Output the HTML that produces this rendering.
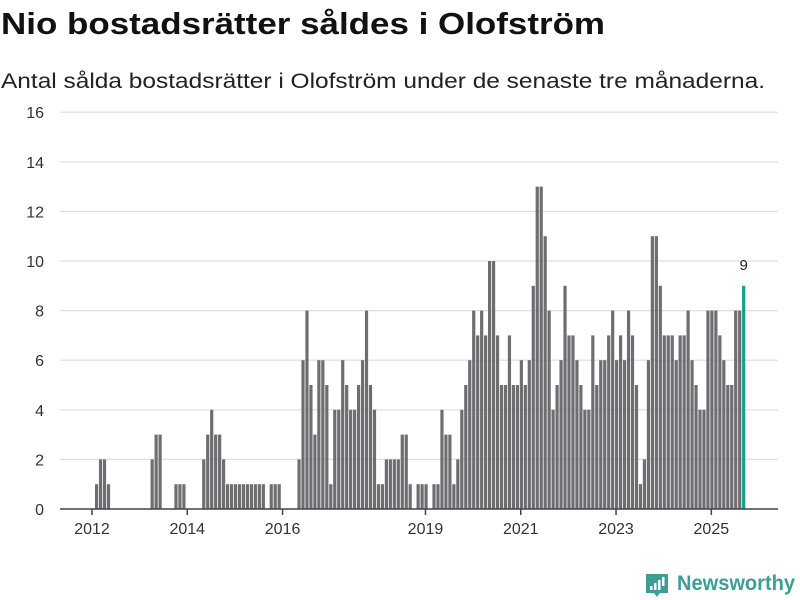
<!DOCTYPE html>
<html><head><meta charset="utf-8"><style>
html,body{margin:0;padding:0;background:#fff;}
svg{display:block;font-family:"Liberation Sans",sans-serif;}
</style></head><body>
<svg id="chart" width="800" height="600" viewBox="0 0 800 600">
<text x="1" y="34" font-size="31" font-weight="bold" fill="#111" textLength="604" lengthAdjust="spacingAndGlyphs">Nio bostadsrätter såldes i Olofström</text>
<text x="1" y="88" font-size="21" fill="#222" textLength="764" lengthAdjust="spacingAndGlyphs">Antal sålda bostadsrätter i Olofström under de senaste tre månaderna.</text>
<g id="grid"></g>
<g id="bars"></g>
<g id="axes"></g>
<g>
<path d="M646 574 h22 v19 h-8 l-3 4 l-3 -4 h-8 z" fill="#3d9e95"/>
<rect x="650" y="586" width="2.5" height="4" fill="#fff"/>
<rect x="654" y="583" width="2.5" height="7" fill="#fff"/>
<rect x="658" y="580" width="2.5" height="10" fill="#fff"/>
<rect x="662" y="577" width="2.5" height="9" fill="#fff"/>
<text x="677" y="590" font-size="21" font-weight="bold" fill="#3d9e95" textLength="118" lengthAdjust="spacingAndGlyphs">Newsworthy</text>
</g>
</svg>
<script>
const startYear = 2012;
const values = [0,1,2,2,1,0,0,0,0,0,0,0,0,0,0,2,3,3,0,0,0,1,1,1,0,0,0,0,2,3,4,3,3,2,1,1,1,1,1,1,1,1,1,1,0,1,1,1,0,0,0,0,
2,6,8,5,3,6,6,5,1,4,4,6,5,4,4,5,6,8,5,4,1,1,2,2,2,2,3,3,1,0,1,1,1,0,1,1,4,3,3,1,2,
4,5,6,8,7,8,7,10,10,7,5,5,7,5,5,6,5,6,9,13,13,11,8,4,5,6,9,7,7,6,5,4,4,7,5,6,6,7,
8,6,7,6,8,7,5,1,2,6,11,11,9,7,7,7,6,7,7,8,6,5,4,4,8,8,8,7,6,5,5,8,8,9];
const yTicks = [0,2,4,6,8,10,12,14,16];
const xTickYears = [2012,2014,2016,2019,2021,2023,2025];

const NS="http://www.w3.org/2000/svg";
const X0=92, MW=3.97, Y0=509, PU=24.8, L=60, R=778;
const xs = i => X0 + i*MW;
const ys = v => Y0 - v*PU;
function mk(tag, attrs, parent){const e=document.createElementNS(NS,tag);for(const k in attrs)e.setAttribute(k,attrs[k]);parent.appendChild(e);return e;}
const grid=document.getElementById('grid'), bars=document.getElementById('bars'), axes=document.getElementById('axes');
yTicks.forEach(v=>{
  if(v>0){const g=mk('line',{x1:L,x2:R,y1:ys(v),y2:ys(v),stroke:'#dedede','stroke-width':1.2},grid);
  
  }
  const t=mk('text',{x:44,y:ys(v)+6,'text-anchor':'end','font-size':16,fill:'#333'},axes);
  t.textContent=v;
  
  
});
values.forEach((v,i)=>{
  if(v<=0)return;
  const last=i===values.length-1;
  const b=mk('rect',{x:xs(i)-1,y:ys(v),width:3.2,height:v*PU,fill:last?'#14a090':'#6e6d72'},bars);
  
  
  if(last){const t=mk('text',{x:xs(i)+0.6,y:ys(v)-16,'text-anchor':'middle','font-size':15,fill:'#222'},bars);
    t.textContent=v;
    
    }
});
const ax=mk('line',{x1:L,x2:R,y1:Y0,y2:Y0,stroke:'#444','stroke-width':1.5},axes);


xTickYears.forEach(y=>{
  const x=xs((y-startYear)*12);
  const tk=mk('line',{x1:x,x2:x,y1:Y0,y2:Y0+6,stroke:'#444','stroke-width':1.5},axes);
  
  
  const t=mk('text',{x:x,y:Y0+25,'text-anchor':'middle','font-size':16,fill:'#333'},axes);
  t.textContent=y;
  
  
});
</script>
</body></html>
